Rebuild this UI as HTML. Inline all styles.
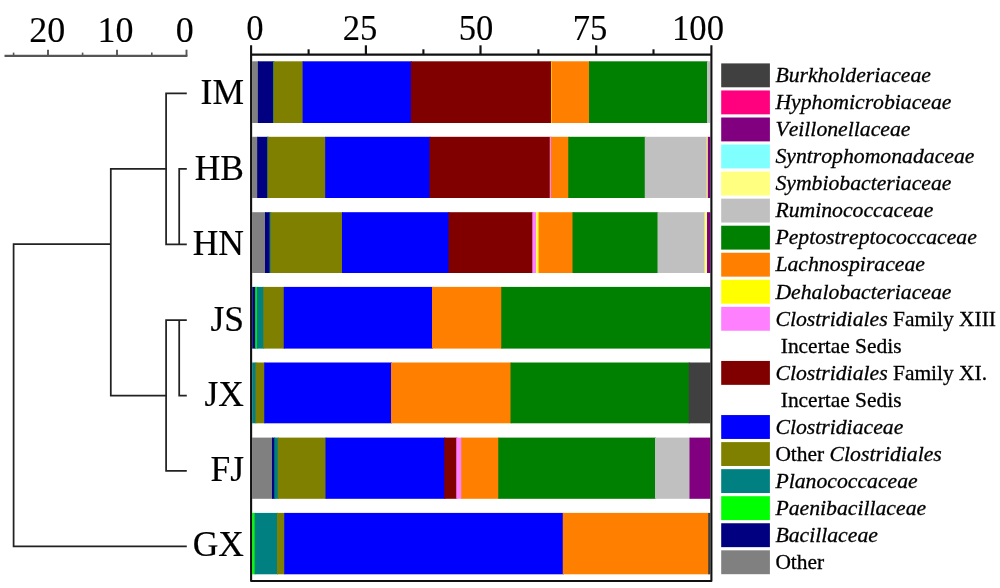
<!DOCTYPE html>
<html><head><meta charset="utf-8"><style>
html,body{margin:0;padding:0;background:#fff}
body{width:1000px;height:588px;position:relative;overflow:hidden;font-family:"Liberation Serif",serif;color:#111}
svg{position:absolute;left:0;top:0}
#t{position:absolute;left:0;top:0;width:1000px;height:588px;filter:blur(0.35px);color:#000}
.lg{-webkit-text-stroke:0.3px #000}
.bx{transform:scaleX(0.96)}
.sl{-webkit-text-stroke:0.2px #000}
.ax{-webkit-text-stroke:0.12px #000}
.lg{position:absolute;left:775.4px;font-kerning:none;font-size:21.45px;line-height:28px;white-space:nowrap}
.lg i{font-size:21.72px}
.sl{position:absolute;left:140.6px;width:104px;text-align:right;font-size:36.6px;line-height:40px;white-space:nowrap;transform:scaleX(0.97);transform-origin:100% 50%}
.ax{position:absolute;width:80px;text-align:center;font-size:36px;line-height:40px;white-space:nowrap}
</style></head><body>
<svg width="1000" height="588" viewBox="0 0 1000 588">
<rect x="252.20" y="61.30" width="6.70" height="61.70" fill="#808080"/>
<rect x="257.90" y="61.30" width="16.10" height="61.70" fill="#000080"/>
<rect x="273.00" y="61.30" width="1.50" height="61.70" fill="#008080"/>
<rect x="273.50" y="61.30" width="30.10" height="61.70" fill="#808000"/>
<rect x="302.60" y="61.30" width="109.20" height="61.70" fill="#0000ff"/>
<rect x="410.80" y="61.30" width="141.30" height="61.70" fill="#800000"/>
<rect x="551.10" y="61.30" width="1.60" height="61.70" fill="#ffff00"/>
<rect x="551.70" y="61.30" width="38.30" height="61.70" fill="#ff8000"/>
<rect x="589.00" y="61.30" width="119.00" height="61.70" fill="#008000"/>
<rect x="707.00" y="61.30" width="3.30" height="61.70" fill="#c0c0c0"/>
<rect x="252.20" y="136.80" width="6.00" height="61.20" fill="#808080"/>
<rect x="257.20" y="136.80" width="11.00" height="61.20" fill="#000080"/>
<rect x="267.20" y="136.80" width="1.40" height="61.20" fill="#008080"/>
<rect x="267.60" y="136.80" width="58.60" height="61.20" fill="#808000"/>
<rect x="325.20" y="136.80" width="105.30" height="61.20" fill="#0000ff"/>
<rect x="429.50" y="136.80" width="121.25" height="61.20" fill="#800000"/>
<rect x="549.75" y="136.80" width="2.25" height="61.20" fill="#ff80ff"/>
<rect x="551.00" y="136.80" width="18.25" height="61.20" fill="#ff8000"/>
<rect x="568.25" y="136.80" width="77.50" height="61.20" fill="#008000"/>
<rect x="644.75" y="136.80" width="62.85" height="61.20" fill="#c0c0c0"/>
<rect x="706.60" y="136.80" width="2.20" height="61.20" fill="#ffff80"/>
<rect x="707.80" y="136.80" width="2.50" height="61.20" fill="#800080"/>
<rect x="252.20" y="212.20" width="13.80" height="60.80" fill="#808080"/>
<rect x="265.00" y="212.20" width="5.50" height="60.80" fill="#000080"/>
<rect x="269.50" y="212.20" width="2.00" height="60.80" fill="#008080"/>
<rect x="270.50" y="212.20" width="72.50" height="60.80" fill="#808000"/>
<rect x="342.00" y="212.20" width="107.50" height="60.80" fill="#0000ff"/>
<rect x="448.50" y="212.20" width="84.80" height="60.80" fill="#800000"/>
<rect x="532.30" y="212.20" width="4.80" height="60.80" fill="#ff80ff"/>
<rect x="536.10" y="212.20" width="2.10" height="60.80" fill="#ffff80"/>
<rect x="537.20" y="212.20" width="2.40" height="60.80" fill="#ffff00"/>
<rect x="538.60" y="212.20" width="34.90" height="60.80" fill="#ff8000"/>
<rect x="572.50" y="212.20" width="86.00" height="60.80" fill="#008000"/>
<rect x="657.50" y="212.20" width="48.00" height="60.80" fill="#c0c0c0"/>
<rect x="704.50" y="212.20" width="3.50" height="60.80" fill="#ffff80"/>
<rect x="707.00" y="212.20" width="3.30" height="60.80" fill="#800080"/>
<rect x="252.20" y="286.90" width="4.00" height="61.70" fill="#000080"/>
<rect x="255.20" y="286.90" width="2.60" height="61.70" fill="#00ff00"/>
<rect x="256.80" y="286.90" width="7.50" height="61.70" fill="#008080"/>
<rect x="263.30" y="286.90" width="21.45" height="61.70" fill="#808000"/>
<rect x="283.75" y="286.90" width="149.25" height="61.70" fill="#0000ff"/>
<rect x="432.00" y="286.90" width="70.25" height="61.70" fill="#ff8000"/>
<rect x="501.25" y="286.90" width="209.05" height="61.70" fill="#008000"/>
<rect x="252.20" y="362.50" width="4.30" height="60.80" fill="#008080"/>
<rect x="255.50" y="362.50" width="9.75" height="60.80" fill="#808000"/>
<rect x="264.25" y="362.50" width="127.75" height="60.80" fill="#0000ff"/>
<rect x="391.00" y="362.50" width="120.50" height="60.80" fill="#ff8000"/>
<rect x="510.50" y="362.50" width="179.25" height="60.80" fill="#008000"/>
<rect x="688.75" y="362.50" width="21.55" height="60.80" fill="#404040"/>
<rect x="252.20" y="437.60" width="20.80" height="61.20" fill="#808080"/>
<rect x="272.00" y="437.60" width="3.25" height="61.20" fill="#000080"/>
<rect x="274.25" y="437.60" width="4.50" height="61.20" fill="#008080"/>
<rect x="277.75" y="437.60" width="48.75" height="61.20" fill="#808000"/>
<rect x="325.50" y="437.60" width="119.75" height="61.20" fill="#0000ff"/>
<rect x="444.25" y="437.60" width="13.00" height="61.20" fill="#800000"/>
<rect x="456.25" y="437.60" width="6.00" height="61.20" fill="#ff80ff"/>
<rect x="461.25" y="437.60" width="38.00" height="61.20" fill="#ff8000"/>
<rect x="498.25" y="437.60" width="157.75" height="61.20" fill="#008000"/>
<rect x="655.00" y="437.60" width="35.50" height="61.20" fill="#c0c0c0"/>
<rect x="689.50" y="437.60" width="20.80" height="61.20" fill="#800080"/>
<rect x="252.20" y="512.90" width="3.40" height="61.40" fill="#00ff00"/>
<rect x="254.60" y="512.90" width="23.40" height="61.40" fill="#008080"/>
<rect x="277.00" y="512.90" width="8.25" height="61.40" fill="#808000"/>
<rect x="284.25" y="512.90" width="279.50" height="61.40" fill="#0000ff"/>
<rect x="562.75" y="512.90" width="146.45" height="61.40" fill="#ff8000"/>
<rect x="708.20" y="512.90" width="2.10" height="61.40" fill="#404040"/>
<path d="M251.1 45.3 V580.95 H711.4 V45.3" fill="none" stroke="#111" stroke-width="2.1" stroke-linejoin="round"/>
<path d="M251.1 54.6 H711.4" fill="none" stroke="#111" stroke-width="2.1"/>
<path d="M365.9 45.3 V54.6" stroke="#111" stroke-width="2.2"/>
<path d="M480.5 45.3 V54.6" stroke="#111" stroke-width="2.2"/>
<path d="M596.2 45.3 V54.6" stroke="#111" stroke-width="2.2"/>
<path d="M308.6 49.3 V54.6" stroke="#111" stroke-width="2.1"/>
<path d="M423.4 49.3 V54.6" stroke="#111" stroke-width="2.1"/>
<path d="M538.4 49.3 V54.6" stroke="#111" stroke-width="2.1"/>
<path d="M653.5 49.3 V54.6" stroke="#111" stroke-width="2.1"/>
<path d="M4.5 55.8 H187.4" stroke="#555" stroke-width="2.2" fill="none"/>
<path d="M48 49.7 V55.8" stroke="#555" stroke-width="1.9"/>
<path d="M117 49.7 V55.8" stroke="#555" stroke-width="1.9"/>
<path d="M186.5 49.7 V55.8" stroke="#555" stroke-width="1.9"/>
<path d="M13.6 52.6 V55.8" stroke="#555" stroke-width="1.6"/>
<path d="M82.6 52.6 V55.8" stroke="#555" stroke-width="1.6"/>
<path d="M151.8 52.6 V55.8" stroke="#555" stroke-width="1.6"/>
<path d="M186.8 93.3 H166.1 V244.3 H186.8 M186.8 168.8 H179.2 V244.3 M166.1 168.8 H110.8 V395.6 H166.1 M186.8 320.1 H166.1 V470.9 H186.8 M179.2 320.1 V395.6 H186.8 M110.8 244.2 H13.6 V546.4 H186.8" fill="none" stroke="#222" stroke-width="1.75"/>
<rect x="721.2" y="63.40" width="48.7" height="23.9" fill="#404040"/>
<rect x="721.2" y="90.45" width="48.7" height="23.9" fill="#ff007f"/>
<rect x="721.2" y="117.50" width="48.7" height="23.9" fill="#800080"/>
<rect x="721.2" y="144.55" width="48.7" height="23.9" fill="#80ffff"/>
<rect x="721.2" y="171.60" width="48.7" height="23.9" fill="#ffff80"/>
<rect x="721.2" y="198.65" width="48.7" height="23.9" fill="#c0c0c0"/>
<rect x="721.2" y="225.70" width="48.7" height="23.9" fill="#008000"/>
<rect x="721.2" y="252.75" width="48.7" height="23.9" fill="#ff8000"/>
<rect x="721.2" y="279.80" width="48.7" height="23.9" fill="#ffff00"/>
<rect x="721.2" y="306.85" width="48.7" height="23.9" fill="#ff80ff"/>
<rect x="721.2" y="360.95" width="48.7" height="23.9" fill="#800000"/>
<rect x="721.2" y="415.05" width="48.7" height="23.9" fill="#0000ff"/>
<rect x="721.2" y="442.10" width="48.7" height="23.9" fill="#808000"/>
<rect x="721.2" y="469.15" width="48.7" height="23.9" fill="#008080"/>
<rect x="721.2" y="496.20" width="48.7" height="23.9" fill="#00ff00"/>
<rect x="721.2" y="523.25" width="48.7" height="23.9" fill="#000080"/>
<rect x="721.2" y="550.30" width="48.7" height="23.9" fill="#808080"/>
</svg>
<div id="t">
<div class="lg" style="top:61.10px"><i>Burkholderiaceae</i></div>
<div class="lg" style="top:88.15px"><i>Hyphomicrobiaceae</i></div>
<div class="lg" style="top:115.20px"><i>Veillonellaceae</i></div>
<div class="lg" style="top:142.25px"><i>Syntrophomonadaceae</i></div>
<div class="lg" style="top:169.30px"><i>Symbiobacteriaceae</i></div>
<div class="lg" style="top:196.35px"><i>Ruminococcaceae</i></div>
<div class="lg" style="top:223.40px"><i>Peptostreptococcaceae</i></div>
<div class="lg" style="top:250.45px"><i>Lachnospiraceae</i></div>
<div class="lg" style="top:277.50px"><i>Dehalobacteriaceae</i></div>
<div class="lg" style="top:304.55px"><i>Clostridiales</i> Family XIII</div>
<div class="lg" style="top:331.60px">&nbsp;Incertae Sedis</div>
<div class="lg" style="top:358.65px"><i>Clostridiales</i> Family XI.</div>
<div class="lg" style="top:385.70px">&nbsp;Incertae Sedis</div>
<div class="lg" style="top:412.75px"><i>Clostridiaceae</i></div>
<div class="lg" style="top:439.80px">Other <i>Clostridiales</i></div>
<div class="lg" style="top:466.85px"><i>Planococcaceae</i></div>
<div class="lg" style="top:493.90px"><i>Paenibacillaceae</i></div>
<div class="lg" style="top:520.95px"><i>Bacillaceae</i></div>
<div class="lg" style="top:548.00px">Other</div>
<div class="sl" style="top:72.40px;left:140.1px">IM</div>
<div class="sl" style="top:147.50px;left:140.1px">HB</div>
<div class="sl" style="top:223.40px;left:140.1px">HN</div>
<div class="sl" style="top:298.80px;left:140.1px">JS</div>
<div class="sl" style="top:373.60px;left:140.1px">JX</div>
<div class="sl" style="top:449.10px;left:139.5px">FJ</div>
<div class="sl" style="top:524.40px;left:140.1px">GX</div>
<div class="ax" style="left:7.2px;top:9.8px">20</div>
<div class="ax" style="left:75.6px;top:9.8px">10</div>
<div class="ax" style="left:144.7px;top:9.8px">0</div>
<div class="ax bx" style="left:214.7px;top:8.2px">0</div>
<div class="ax bx" style="left:320.1px;top:8.2px">25</div>
<div class="ax bx" style="left:436.0px;top:8.2px">50</div>
<div class="ax bx" style="left:549.9px;top:8.2px">75</div>
<div class="ax bx" style="left:658.4px;top:8.2px">100</div>
</div>
</body></html>
